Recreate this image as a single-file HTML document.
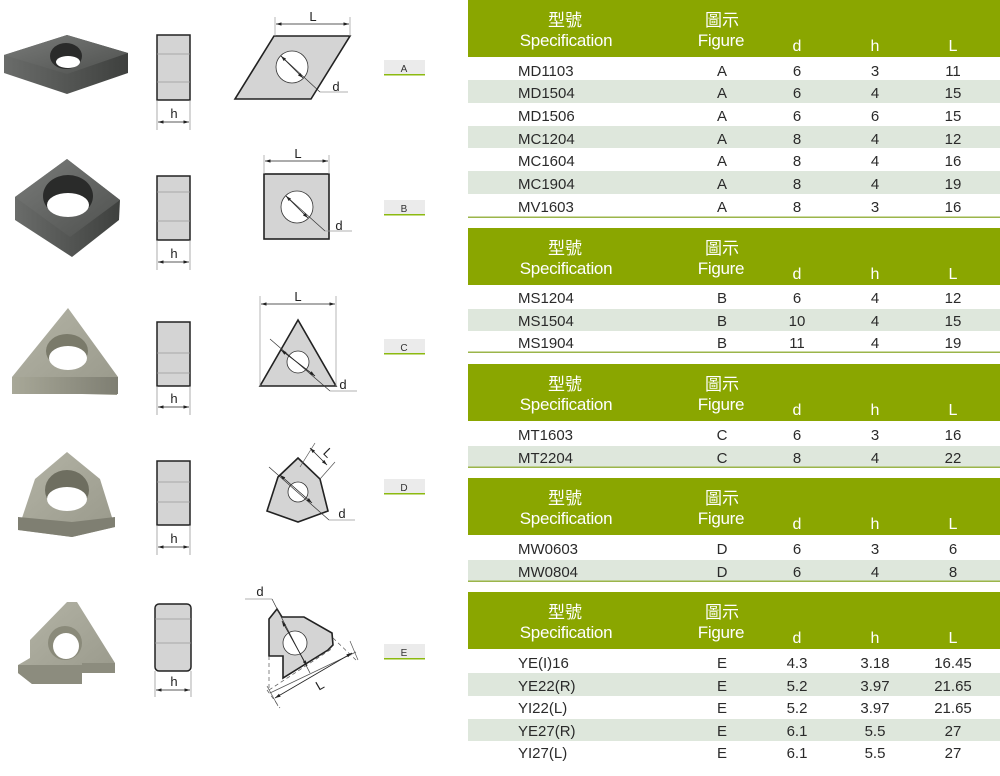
<!DOCTYPE html>
<html><head><meta charset="utf-8"><style>
html,body{margin:0;padding:0;background:#fff;width:1000px;height:776px;overflow:hidden}
svg{display:block}
.t{font-family:"Liberation Sans","Noto Sans CJK TC",sans-serif}
</style></head><body>
<svg width="1000" height="776" viewBox="0 0 1000 776" xmlns="http://www.w3.org/2000/svg" class="t">
<defs>
<linearGradient id="dk" x1="0" y1="0" x2="1" y2="1"><stop offset="0" stop-color="#7a7c7a"/><stop offset="1" stop-color="#4e504e"/></linearGradient>
<linearGradient id="dks" x1="0" y1="0" x2="1" y2="0"><stop offset="0" stop-color="#6a6c6a"/><stop offset="1" stop-color="#3e403e"/></linearGradient>
<linearGradient id="gr" x1="0" y1="0" x2="1" y2="1"><stop offset="0" stop-color="#b4b4a6"/><stop offset="1" stop-color="#98988a"/></linearGradient>
<linearGradient id="grs" x1="0" y1="0" x2="1" y2="0"><stop offset="0" stop-color="#a8a898"/><stop offset="1" stop-color="#7e7e72"/></linearGradient>
<marker id="ar" viewBox="0 0 10 10" refX="10" refY="5" markerWidth="7" markerHeight="7" orient="auto-start-reverse"><path d="M0,2 L10,5 L0,8 z" fill="#222"/></marker>
</defs>

<!-- Photos -->
<g>
<polygon points="4,55 67,35 128,53 128,73 67,94 4,73" fill="url(#dks)"/>
<polygon points="4,55 67,35 128,53 67,74" fill="url(#dk)"/>
<ellipse cx="66" cy="56" rx="16" ry="13" fill="#2a2b2a"/>
<ellipse cx="68" cy="62" rx="12" ry="6" fill="#fff"/>

<polygon points="15,197 67,159 120,200 119,220 72,257 15,220" fill="url(#dks)"/>
<polygon points="15,197 67,159 120,200 70,237" fill="url(#dk)"/>
<ellipse cx="68" cy="196" rx="25" ry="21" fill="#2a2b2a"/>
<ellipse cx="68" cy="205" rx="21" ry="12" fill="#fff"/>

<polygon points="68,308 118,377 117,395 12,392 12,377" fill="url(#gr)"/>
<rect x="12" y="377" width="106" height="17" fill="url(#grs)"/>
<ellipse cx="67" cy="351" rx="21" ry="17" fill="#7a7a6a"/>
<ellipse cx="68" cy="358" rx="19" ry="12" fill="#fff"/>

<polygon points="67,452 100,479 115,527 72,537 18,530 35,479" fill="url(#gr)"/>
<polygon points="18,517 72,522 115,517 115,527 72,537 18,530" fill="#7f7f72"/>
<ellipse cx="67" cy="490" rx="22" ry="20" fill="#6e6e60"/>
<ellipse cx="67" cy="499" rx="20" ry="12" fill="#fff"/>

<polygon points="67,602 77,602 115,663 115,673 82,673 82,684 32,684 18,673 18,665 30,658 30,640" fill="url(#gr)"/>
<polygon points="18,665 82,665 82,684 32,684 18,673" fill="#8c8c7e"/>
<polygon points="82,663 115,663 115,673 82,673" fill="#8c8c7e"/>
<circle cx="65" cy="643" r="17" fill="#8a8a7a"/>
<circle cx="66" cy="646" r="13" fill="#fff"/>
</g>

<!-- Side views -->
<g stroke="#222" fill="#d4d4d4">
<rect x="157" y="35" width="33" height="65" stroke-width="1.5"/>
<rect x="157" y="176" width="33" height="64" stroke-width="1.5"/>
<rect x="157" y="322" width="33" height="64" stroke-width="1.5"/>
<rect x="157" y="461" width="33" height="64" stroke-width="1.5"/>
<rect x="155" y="604" width="36" height="67" rx="4" stroke-width="1.5"/>
</g>
<g stroke="#999" stroke-width="0.8">
<line x1="157" y1="54" x2="190" y2="54"/><line x1="157" y1="82" x2="190" y2="82"/>
<line x1="157" y1="192" x2="190" y2="192"/><line x1="157" y1="221" x2="190" y2="221"/>
<line x1="157" y1="353" x2="190" y2="353"/><line x1="157" y1="373" x2="190" y2="373"/>
<line x1="157" y1="482" x2="190" y2="482"/><line x1="157" y1="502" x2="190" y2="502"/>
<line x1="155" y1="619" x2="191" y2="619"/><line x1="155" y1="643" x2="191" y2="643"/>
</g>
<g stroke="#888" stroke-width="0.7">
<line x1="157" y1="100" x2="157" y2="130"/><line x1="190" y1="100" x2="190" y2="130"/>
<line x1="157" y1="240" x2="157" y2="270"/><line x1="190" y1="240" x2="190" y2="270"/>
<line x1="157" y1="386" x2="157" y2="415"/><line x1="190" y1="386" x2="190" y2="415"/>
<line x1="157" y1="525" x2="157" y2="555"/><line x1="190" y1="525" x2="190" y2="555"/>
<line x1="155" y1="671" x2="155" y2="697"/><line x1="191" y1="671" x2="191" y2="697"/>
</g>
<g stroke="#222" stroke-width="0.8" marker-start="url(#ar)" marker-end="url(#ar)">
<line x1="158" y1="122" x2="189" y2="122"/>
<line x1="158" y1="262" x2="189" y2="262"/>
<line x1="158" y1="407" x2="189" y2="407"/>
<line x1="158" y1="547" x2="189" y2="547"/>
<line x1="156" y1="690" x2="190" y2="690"/>
</g>
<g font-size="13" fill="#222" text-anchor="middle">
<text x="174" y="118">h</text><text x="174" y="258">h</text><text x="174" y="403">h</text><text x="174" y="543">h</text><text x="174" y="686">h</text>
</g>

<!-- Figures -->
<g stroke="#222" stroke-width="1.6" fill="#d4d4d4">
<polygon points="274,36 350,36 311,99 235,99"/>
<rect x="264" y="174" width="65" height="65"/>
<polygon points="298,320 260,386 336,386"/>
<polygon points="298,458 320,479 328,511 298,522 267,511 278,477"/>
<polygon points="269,619 277,609 282,617 304,617 332,633 333,645 328,650 283,678 283,656 269,656"/>
</g>
<g stroke="#333" stroke-width="0.8" fill="#fff">
<circle cx="292" cy="67" r="16"/>
<circle cx="297" cy="207" r="16"/>
<circle cx="298" cy="362" r="11"/>
<circle cx="298" cy="492" r="10"/>
<circle cx="295" cy="643" r="12"/>
</g>
<g stroke="#999" stroke-width="0.7" fill="none">
<line x1="275" y1="17" x2="275" y2="36"/><line x1="350" y1="17" x2="350" y2="36"/>
<line x1="320" y1="92" x2="348" y2="92"/>
<line x1="264" y1="155" x2="264" y2="174"/><line x1="329" y1="155" x2="329" y2="174"/>
<line x1="325" y1="231" x2="352" y2="231"/>
<line x1="260" y1="296" x2="260" y2="386"/><line x1="336" y1="296" x2="336" y2="386"/>
<line x1="330" y1="391" x2="357" y2="391"/>
<line x1="329" y1="520" x2="355" y2="520"/>
<line x1="300" y1="467" x2="315" y2="443" stroke="#555"/><line x1="320" y1="479" x2="335" y2="462" stroke="#555"/>
<line x1="245" y1="599" x2="272" y2="599"/>
</g>
<g stroke="#333" stroke-width="0.7" fill="none">
<line x1="281" y1="56" x2="320" y2="92"/>
<line x1="286" y1="196" x2="325" y2="231"/>
<line x1="270" y1="339" x2="330" y2="391"/>
<line x1="269" y1="467" x2="329" y2="520"/>
<line x1="272" y1="599" x2="310" y2="673"/>
</g>
<g stroke="#555" stroke-width="0.7" stroke-dasharray="4,3" fill="none">
<line x1="269" y1="656" x2="269" y2="690"/>
<line x1="267" y1="690" x2="280" y2="708"/>
<line x1="333" y1="638" x2="356" y2="660"/>
<line x1="269" y1="690" x2="333" y2="648"/>
</g>
<g stroke="#555" stroke-width="0.7" fill="none">
<line x1="270" y1="693" x2="356" y2="652"/>
<line x1="267" y1="686" x2="278" y2="706"/>
<line x1="350" y1="641" x2="358" y2="660"/>
</g>
<g stroke="#222" stroke-width="0.8" marker-start="url(#ar)" marker-end="url(#ar)">
<line x1="276" y1="24" x2="349" y2="24"/>
<line x1="265" y1="161" x2="328" y2="161"/>
<line x1="261" y1="304" x2="335" y2="304"/>
<line x1="310" y1="448" x2="327" y2="465"/>
<line x1="275" y1="698" x2="352" y2="653"/>
<line x1="281" y1="56" x2="303" y2="78"/>
<line x1="286" y1="196" x2="308" y2="218"/>
<line x1="281" y1="350" x2="315" y2="376"/>
<line x1="280" y1="475" x2="312" y2="503"/>
<line x1="282" y1="621" x2="307" y2="666"/>
</g>
<g font-size="13" fill="#222" text-anchor="middle">
<text x="313" y="21">L</text><text x="298" y="158">L</text><text x="298" y="301">L</text>
<text x="325" y="456" transform="rotate(45 325 456)">L</text>
<text x="322" y="689" transform="rotate(-30 322 689)">L</text>
<text x="336" y="91">d</text><text x="339" y="230">d</text><text x="343" y="389">d</text><text x="342" y="518">d</text><text x="260" y="596">d</text>
</g>

<!-- Labels -->
<g font-size="10" fill="#333" text-anchor="middle">
<rect x="384" y="60" width="41" height="14" fill="#ebebeb"/><rect x="384" y="74" width="41" height="1.5" fill="#8cba10"/><text x="404" y="72">A</text>
<rect x="384" y="200" width="41" height="14" fill="#ebebeb"/><rect x="384" y="214" width="41" height="1.5" fill="#8cba10"/><text x="404" y="212">B</text>
<rect x="384" y="339" width="41" height="14" fill="#ebebeb"/><rect x="384" y="353" width="41" height="1.5" fill="#8cba10"/><text x="404" y="351">C</text>
<rect x="384" y="479" width="41" height="14" fill="#ebebeb"/><rect x="384" y="493" width="41" height="1.5" fill="#8cba10"/><text x="404" y="491">D</text>
<rect x="384" y="644" width="41" height="14" fill="#ebebeb"/><rect x="384" y="658" width="41" height="1.5" fill="#8cba10"/><text x="404" y="656">E</text>
</g>

<!-- Tables -->
<g id="tables">
<!-- headers -->
<g fill="#8aa600">
<rect x="468" y="0" width="532" height="57"/>
<rect x="468" y="228" width="532" height="57"/>
<rect x="468" y="364" width="532" height="57"/>
<rect x="468" y="478" width="532" height="57"/>
<rect x="468" y="592" width="532" height="57"/>
</g>
<!-- stripes -->
<g fill="#dee7dc">
<rect x="468" y="80" width="532" height="23"/><rect x="468" y="126" width="532" height="22"/><rect x="468" y="171" width="532" height="23"/>
<rect x="468" y="309" width="532" height="22"/>
<rect x="468" y="446" width="532" height="22"/>
<rect x="468" y="560" width="532" height="22"/>
<rect x="468" y="673" width="532" height="23"/><rect x="468" y="719" width="532" height="22"/>
</g>
<g fill="#9bb54a">
<rect x="468" y="216.5" width="532" height="1.5"/>
<rect x="468" y="351.5" width="532" height="1.5"/>
<rect x="468" y="466.5" width="532" height="1.5"/>
<rect x="468" y="580.5" width="532" height="1.5"/>
</g>
<g fill="#fff" text-anchor="middle">
<g font-size="17"><text x="565" y="26">型號</text><text x="722" y="26">圖示</text>
<text x="565" y="254">型號</text><text x="722" y="254">圖示</text>
<text x="565" y="390">型號</text><text x="722" y="390">圖示</text>
<text x="565" y="504">型號</text><text x="722" y="504">圖示</text>
<text x="565" y="618">型號</text><text x="722" y="618">圖示</text></g>
<g font-size="17" letter-spacing="-0.3">
<text x="566" y="46">Specification</text><text x="721" y="46">Figure</text>
<text x="566" y="274">Specification</text><text x="721" y="274">Figure</text>
<text x="566" y="410">Specification</text><text x="721" y="410">Figure</text>
<text x="566" y="524">Specification</text><text x="721" y="524">Figure</text>
<text x="566" y="638">Specification</text><text x="721" y="638">Figure</text>
</g>
<g font-size="16">
<text x="797" y="51">d</text><text x="875" y="51">h</text><text x="953" y="51">L</text>
<text x="797" y="279">d</text><text x="875" y="279">h</text><text x="953" y="279">L</text>
<text x="797" y="415">d</text><text x="875" y="415">h</text><text x="953" y="415">L</text>
<text x="797" y="529">d</text><text x="875" y="529">h</text><text x="953" y="529">L</text>
<text x="797" y="643">d</text><text x="875" y="643">h</text><text x="953" y="643">L</text>
</g>
</g>
<g fill="#2a2a2a" font-size="15">
<g text-anchor="start">
<text x="518" y="76">MD1103</text><text x="518" y="98">MD1504</text><text x="518" y="121">MD1506</text><text x="518" y="144">MC1204</text><text x="518" y="166">MC1604</text><text x="518" y="189">MC1904</text><text x="518" y="212">MV1603</text>
<text x="518" y="303">MS1204</text><text x="518" y="326">MS1504</text><text x="518" y="348">MS1904</text>
<text x="518" y="440">MT1603</text><text x="518" y="463">MT2204</text>
<text x="518" y="554">MW0603</text><text x="518" y="577">MW0804</text>
<text x="518" y="668">YE(I)16</text><text x="518" y="691">YE22(R)</text><text x="518" y="713">YI22(L)</text><text x="518" y="736">YE27(R)</text><text x="518" y="758">YI27(L)</text>
</g>
<g text-anchor="middle">
<text x="722" y="76">A</text><text x="797" y="76">6</text><text x="875" y="76">3</text><text x="953" y="76">11</text>
<text x="722" y="98">A</text><text x="797" y="98">6</text><text x="875" y="98">4</text><text x="953" y="98">15</text>
<text x="722" y="121">A</text><text x="797" y="121">6</text><text x="875" y="121">6</text><text x="953" y="121">15</text>
<text x="722" y="144">A</text><text x="797" y="144">8</text><text x="875" y="144">4</text><text x="953" y="144">12</text>
<text x="722" y="166">A</text><text x="797" y="166">8</text><text x="875" y="166">4</text><text x="953" y="166">16</text>
<text x="722" y="189">A</text><text x="797" y="189">8</text><text x="875" y="189">4</text><text x="953" y="189">19</text>
<text x="722" y="212">A</text><text x="797" y="212">8</text><text x="875" y="212">3</text><text x="953" y="212">16</text>
<text x="722" y="303">B</text><text x="797" y="303">6</text><text x="875" y="303">4</text><text x="953" y="303">12</text>
<text x="722" y="326">B</text><text x="797" y="326">10</text><text x="875" y="326">4</text><text x="953" y="326">15</text>
<text x="722" y="348">B</text><text x="797" y="348">11</text><text x="875" y="348">4</text><text x="953" y="348">19</text>
<text x="722" y="440">C</text><text x="797" y="440">6</text><text x="875" y="440">3</text><text x="953" y="440">16</text>
<text x="722" y="463">C</text><text x="797" y="463">8</text><text x="875" y="463">4</text><text x="953" y="463">22</text>
<text x="722" y="554">D</text><text x="797" y="554">6</text><text x="875" y="554">3</text><text x="953" y="554">6</text>
<text x="722" y="577">D</text><text x="797" y="577">6</text><text x="875" y="577">4</text><text x="953" y="577">8</text>
<text x="722" y="668">E</text><text x="797" y="668">4.3</text><text x="875" y="668">3.18</text><text x="953" y="668">16.45</text>
<text x="722" y="691">E</text><text x="797" y="691">5.2</text><text x="875" y="691">3.97</text><text x="953" y="691">21.65</text>
<text x="722" y="713">E</text><text x="797" y="713">5.2</text><text x="875" y="713">3.97</text><text x="953" y="713">21.65</text>
<text x="722" y="736">E</text><text x="797" y="736">6.1</text><text x="875" y="736">5.5</text><text x="953" y="736">27</text>
<text x="722" y="758">E</text><text x="797" y="758">6.1</text><text x="875" y="758">5.5</text><text x="953" y="758">27</text>
</g>
</g>
</g>
</svg>
</body></html>
